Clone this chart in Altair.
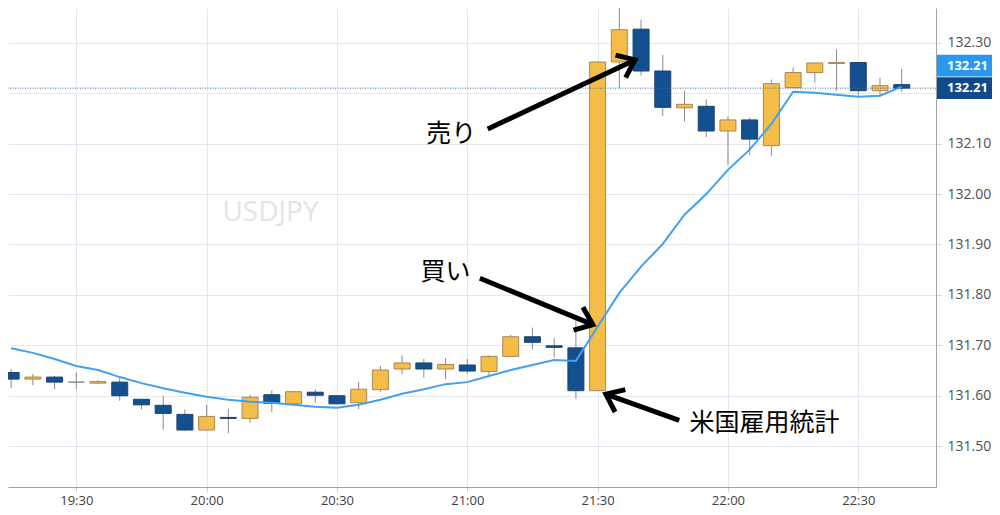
import altair as alt
import pandas as pd

# ---- data (5-minute USD/JPY candles) ----
times = ["19:15", "19:20", "19:25", "19:30", "19:35", "19:40", "19:45", "19:50", "19:55",
         "20:00", "20:05", "20:10", "20:15", "20:20", "20:25", "20:30", "20:35", "20:40",
         "20:45", "20:50", "20:55", "21:00", "21:05", "21:10", "21:15", "21:20", "21:25",
         "21:30", "21:35", "21:40", "21:45", "21:50", "21:55", "22:00", "22:05", "22:10",
         "22:15", "22:20", "22:25", "22:30", "22:35", "22:40"]
open_ = [131.646, 131.633, 131.637, 131.627, 131.625, 131.627, 131.593, 131.581, 131.563,
         131.532, 131.557, 131.555, 131.602, 131.584, 131.607, 131.600, 131.586, 131.612,
         131.653, 131.665, 131.653, 131.661, 131.648, 131.678, 131.717, 131.699, 131.695,
         131.610, 132.262, 132.327, 132.244, 132.171, 132.174, 132.125, 132.147, 132.096,
         132.211, 132.241, 132.259, 132.261, 132.205, 132.217]
close = [131.633, 131.637, 131.627, 131.627, 131.628, 131.600, 131.582, 131.565, 131.532,
         131.559, 131.555, 131.597, 131.585, 131.608, 131.601, 131.584, 131.613, 131.651,
         131.665, 131.653, 131.662, 131.649, 131.678, 131.717, 131.706, 131.696, 131.610,
         132.262, 132.326, 132.244, 132.172, 132.178, 132.125, 132.147, 132.109, 132.219,
         132.241, 132.260, 132.261, 132.205, 132.215, 132.210]
high = [131.653, 131.643, 131.639, 131.646, 131.631, 131.636, 131.593, 131.600, 131.573,
        131.582, 131.574, 131.602, 131.611, 131.609, 131.613, 131.600, 131.627, 131.659,
        131.680, 131.673, 131.674, 131.673, 131.680, 131.721, 131.735, 131.714, 131.750,
        132.263, 132.375, 132.346, 132.276, 132.205, 132.188, 132.154, 132.152, 132.227,
        132.251, 132.260, 132.287, 132.261, 132.231, 132.248]
low = [131.615, 131.621, 131.613, 131.613, 131.623, 131.590, 131.573, 131.533, 131.530,
       131.530, 131.526, 131.546, 131.568, 131.584, 131.586, 131.583, 131.573, 131.608,
       131.643, 131.636, 131.633, 131.643, 131.641, 131.678, 131.692, 131.676, 131.594,
       131.609, 132.210, 132.235, 132.155, 132.144, 132.113, 132.058, 132.078, 132.076,
       132.211, 132.221, 132.205, 132.195, 132.193, 132.203]
ma = [131.694, 131.685, 131.673, 131.659, 131.651, 131.637, 131.625, 131.615, 131.606,
      131.598, 131.592, 131.588, 131.586, 131.582, 131.578, 131.576, 131.582, 131.592,
      131.604, 131.613, 131.623, 131.627, 131.639, 131.651, 131.661, 131.671, 131.669,
      131.737, 131.804, 131.856, 131.901, 131.959, 132.000, 132.048, 132.088, 132.139,
      132.203, 132.201, 132.197, 132.193, 132.195, 132.213]

tick_minutes = [30, 60, 90, 120, 150, 180, 210]          # 19:30 ... 22:30
price_ticks = [131.5, 131.6, 131.7, 131.8, 131.9, 132.0, 132.1, 132.2, 132.3]
hidden_tick = 132.2                                        # covered by the price boxes

# annotations (minutes after 19:00, price)
arrow_x0 = [124.7, 122.9, 168.8]
arrow_y0 = [132.129, 131.833, 131.551]
arrow_x1 = [158.6, 148.9, 151.9]
arrow_y1 = [132.266, 131.741, 131.603]
arrow_angle = [335.8, 22.3, 204.6]
label_text = ["売り", "買い", "米国雇用統計"]
label_x = [116.3, 115.0, 188.4]
label_y = [132.120, 131.846, 131.545]
watermark = "USDJPY"
watermark_x = 74.7
watermark_y = 131.962
last_price = 132.21
last_ma = 132.21


def to_min(t):
    h, m = t.split(":")
    return (int(h) - 19) * 60 + int(m)


df = pd.DataFrame({"t": [to_min(t) for t in times], "open": open_, "close": close,
                   "high": high, "low": low, "ma": ma})
df["dir"] = ["up" if c > o else ("down" if c < o else "flat") for o, c in zip(open_, close)]

arrows = pd.DataFrame({"x0": arrow_x0, "y0": arrow_y0, "x1": arrow_x1, "y1": arrow_y1,
                       "ang": arrow_angle})
labels = pd.DataFrame({"text": label_text, "x": label_x, "y": label_y})
wm = pd.DataFrame({"text": [watermark], "x": [watermark_x], "y": [watermark_y]})

GRID = "#e3e9f1"
TICK = "#c8d2de"
DOMAIN = "#a3a3a3"
FONT = "Open Sans"

x_scale = alt.Scale(domain=[15.43, 226.74], nice=False, zero=False)
y_scale = alt.Scale(domain=[131.419, 132.369], nice=False, zero=False)
x_axis = alt.Axis(values=tick_minutes, title=None, grid=True, gridColor=GRID, tickColor=TICK,
                  tickSize=5, domainColor=DOMAIN, labelFont=FONT, labelFontSize=13,
                  labelColor="#404040", labelPadding=2,
                  labelExpr="(floor(datum.value/60)+19) + ':' + (datum.value % 60 == 0 ? '00' : '30')")
y_axis = alt.Axis(values=price_ticks, orient="right", title=None, grid=True,
                  gridColor=GRID, tickColor=TICK, tickSize=5, domainColor=DOMAIN,
                  labelFont=FONT, labelFontSize=14, labelColor="#505050", labelPadding=6,
                  labelExpr=f"abs(datum.value - {hidden_tick}) < 0.001 ? '' : format(datum.value, '.2f')")


def X(f):
    return alt.X(f, type="quantitative", scale=x_scale, axis=x_axis)


def Y(f):
    return alt.Y(f, type="quantitative", scale=y_scale, axis=y_axis)


base = alt.Chart(df)

wicks = base.mark_rule(color="#8a8a8a", strokeWidth=1, clip=True).encode(
    x=X("t"), y=Y("low"), y2="high")

bodies = base.mark_bar(size=16, strokeWidth=1, clip=True).encode(
    x=X("t"), y=Y("open"), y2="close",
    fill=alt.Fill("dir:N", scale=alt.Scale(domain=["up", "down", "flat"],
                                           range=["#F4BD47", "#13508F", "#8a8a8a"]), legend=None),
    stroke=alt.Stroke("dir:N", scale=alt.Scale(domain=["up", "down", "flat"],
                                               range=["#a8875a", "#21416a", "#8a8a8a"]), legend=None))

ma_line = base.mark_line(color="#42a0ef", strokeWidth=2, clip=True).encode(x=X("t"), y=Y("ma"))

last_line = alt.Chart(pd.DataFrame({"p": [last_price]})).mark_rule(
    color="#3b6db3", strokeWidth=1, strokeDash=[1, 1.5], clip=True).encode(y=Y("p"))

wm_text = alt.Chart(wm).mark_text(font=FONT, fontSize=28, color="#e4e4e4", align="center",
                                  baseline="middle").encode(x=X("x"), y=Y("y"), text="text:N")

shafts = alt.Chart(arrows).mark_rule(color="black", strokeWidth=5).encode(
    x=X("x0"), y=Y("y0"), x2="x1", y2="y1")

heads = alt.Chart(arrows).mark_point(
    shape="M -0.985 -0.77 L 0 0 L -0.985 0.77", filled=False, size=1024, strokeWidth=5,
    color="black", opacity=1, strokeJoin="miter").encode(
    x=X("x1"), y=Y("y1"), angle=alt.Angle("ang:Q", scale=None))

ann_text = alt.Chart(labels).mark_text(font="Noto Sans CJK JP", fontSize=25, color="black",
                                       align="center", baseline="middle").encode(
    x=X("x"), y=Y("y"), text="text:N")

box_df = pd.DataFrame({"p": [last_price]})
ma_df = pd.DataFrame({"p": [last_ma]})
HALF = 0.0215
OFF = -22.5

dark_box = alt.Chart(box_df).transform_calculate(lo=f"datum.p - {HALF}", hi=f"datum.p + {HALF}").mark_rect(
    color="#11498b", clip=False).encode(x=alt.value(929), x2=alt.value(1000), y=Y("lo"), y2="hi")
dark_txt = alt.Chart(box_df).mark_text(align="left", baseline="middle", font=FONT, fontSize=13,
                                       fontWeight="bold", color="white", clip=False).encode(
    x=alt.value(939), y=Y("p"), text=alt.Text("p:Q", format=".2f"))
light_box = alt.Chart(ma_df).transform_calculate(lo=f"datum.p - {HALF}", hi=f"datum.p + {HALF}").mark_rect(
    color="#2a98f0", clip=False, yOffset=OFF, y2Offset=OFF).encode(
    x=alt.value(929), x2=alt.value(1000), y=Y("lo"), y2="hi")
light_txt = alt.Chart(ma_df).mark_text(align="left", baseline="middle", font=FONT, fontSize=13,
                                       fontWeight="bold", color="white", clip=False, yOffset=OFF).encode(
    x=alt.value(939), y=Y("p"), text=alt.Text("p:Q", format=".2f"))

chart = alt.layer(
    wm_text, wicks, bodies, ma_line, last_line, shafts, heads, ann_text,
    light_box, dark_box, light_txt, dark_txt
).properties(
    width=928, height=479,
    autosize=alt.AutoSizeParams(type="none"),
    padding={"left": 0, "top": 0, "right": 56, "bottom": 20},
).configure_view(stroke=None)

chart.save("out.html", embed_options={"renderer": "svg", "actions": False})
